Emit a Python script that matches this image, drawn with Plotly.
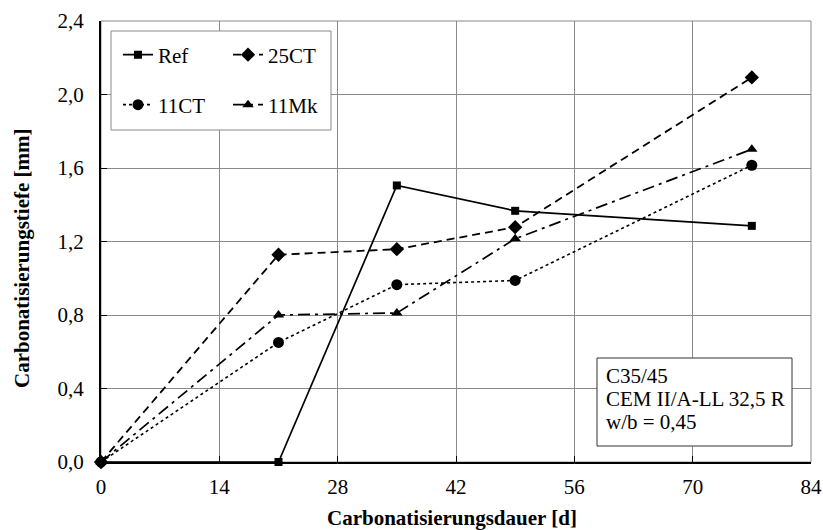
import plotly.graph_objects as go

# ---- data ----
days = [0, 21, 35, 49, 77]
ref = [0.0, 0.0, 1.505, 1.367, 1.285]
ct25 = [0.0, 1.128, 1.158, 1.278, 2.093]
ct11 = [0.0, 0.651, 0.965, 0.988, 1.615]
mk11 = [0.0, 0.800, 0.811, 1.215, 1.702]

x_ticks = [0, 14, 28, 42, 56, 70, 84]
x_tick_labels = ["0", "14", "28", "42", "56", "70", "84"]
y_ticks = [0.0, 0.4, 0.8, 1.2, 1.6, 2.0, 2.4]
y_tick_labels = ["0,0", "0,4", "0,8", "1,2", "1,6", "2,0", "2,4"]

info_lines = ["C35/45", "CEM II/A-LL 32,5 R", "w/b = 0,45"]

FONT = "Liberation Serif"
W, H = 823, 530
ML, MR, MT, MB = 101, 12, 21, 68
PW = W - ML - MR
PH = H - MT - MB


def px_x(p):
    return (p - ML) / PW


def px_y(p):
    return (H - MB - p) / PH


fig = go.Figure()

series = [
    ("Ref", ref, "solid", 1.7, "square", 8, "legend"),
    ("25CT", ct25, "8px,5px", 1.8, "diamond", 11, "legend3"),
    ("11CT", ct11, "dot", 1.6, "circle", 11, "legend2"),
    ("11Mk", mk11, "12px,5px,3px,5px", 1.7, "triangle-up", 10, "legend4"),
]
for name, vals, dash, lw, sym, ms, lg in series:
    fig.add_trace(go.Scatter(
        x=days, y=vals, name=name, mode="lines+markers",
        line=dict(color="black", width=lw, dash=dash),
        marker=dict(symbol=sym, size=ms, color="black"),
        cliponaxis=False, legend=lg,
    ))

legend_common = dict(
    xanchor="left", yanchor="middle", bgcolor="rgba(0,0,0,0)", borderwidth=0,
    font=dict(family=FONT, size=21, color="black"), itemwidth=30,
)
fig.update_layout(
    legend=dict(x=px_x(118), y=px_y(55), **legend_common),
    legend2=dict(x=px_x(118), y=px_y(105), **legend_common),
    legend3=dict(x=px_x(228), y=px_y(55), **legend_common),
    legend4=dict(x=px_x(228), y=px_y(105), **legend_common),
)

shapes = [
    # plot border (gray)
    dict(type="rect", xref="paper", yref="paper", x0=0, x1=1, y0=0, y1=1,
         line=dict(color="#8a8a8a", width=1), layer="below"),
    # legend box
    dict(type="rect", xref="paper", yref="paper",
         x0=px_x(111), x1=px_x(331), y0=px_y(130), y1=px_y(31),
         line=dict(color="#8a8a8a", width=1), fillcolor="white", layer="above"),
    # info box
    dict(type="rect", xref="paper", yref="paper",
         x0=px_x(597), x1=px_x(792), y0=px_y(446), y1=px_y(358),
         line=dict(color="#333333", width=1), fillcolor="white", layer="above"),
]

annotations = []
for i, t in enumerate(info_lines):
    annotations.append(dict(
        xref="paper", yref="paper", x=px_x(604), y=px_y(376 + i * 23),
        xanchor="left", yanchor="middle", text=t, showarrow=False,
        font=dict(family=FONT, size=21, color="black"),
    ))
# axis titles
annotations.append(dict(
    xref="paper", yref="paper", x=px_x(22), y=px_y(258),
    xanchor="center", yanchor="middle", textangle=-90, showarrow=False,
    text="<b>Carbonatisierungstiefe [mm]</b>",
    font=dict(family=FONT, size=21, color="black"),
))
annotations.append(dict(
    xref="paper", yref="paper", x=px_x(452), y=px_y(518),
    xanchor="center", yanchor="middle", showarrow=False,
    text="<b>Carbonatisierungsdauer [d]</b>",
    font=dict(family=FONT, size=21, color="black"),
))

fig.update_layout(
    width=W, height=H,
    margin=dict(l=ML, r=MR, t=MT, b=MB, pad=0),
    paper_bgcolor="white", plot_bgcolor="white",
    showlegend=True,
    shapes=shapes, annotations=annotations,
    font=dict(family=FONT, size=21, color="black"),
    xaxis=dict(
        range=[0, 84], tickvals=x_ticks, ticktext=x_tick_labels,
        showgrid=True, gridcolor="#8a8a8a", gridwidth=1,
        showline=True, linecolor="black", linewidth=2,
        ticks="inside", ticklen=6, tickcolor="black", tickwidth=1,
        ticklabelstandoff=5, zeroline=False, automargin=False,
        tickfont=dict(family=FONT, size=21, color="black"),
    ),
    yaxis=dict(
        range=[0, 2.4], tickvals=y_ticks, ticktext=y_tick_labels,
        showgrid=True, gridcolor="#8a8a8a", gridwidth=1,
        showline=True, linecolor="black", linewidth=2,
        ticks="inside", ticklen=6, tickcolor="black", tickwidth=1,
        ticklabelstandoff=11, zeroline=False, automargin=False,
        tickfont=dict(family=FONT, size=21, color="black"),
    ),
)

fig.write_html("out.html")
